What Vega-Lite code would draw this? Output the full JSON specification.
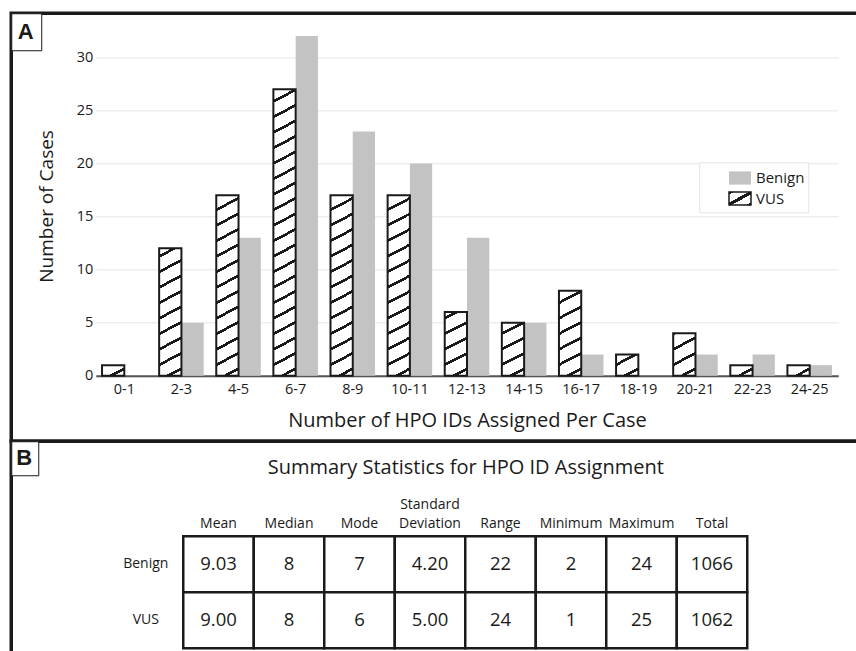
{
  "$schema": "https://vega.github.io/schema/vega-lite/v6.json",
  "background": "white",
  "padding": {"left": 8.25, "top": 10.25, "right": 0, "bottom": 0},
  "bounds": "flush",
  "spacing": 0,
  "config": {
    "font": "Open Sans",
    "axis": {"labelColor": "#1a1a1a", "titleColor": "#1a1a1a", "titleFontWeight": "normal"},
    "legend": {"labelColor": "#1a1a1a"}
  },
  "resolve": {"scale": {"shape": "independent", "fill": "independent"}, "legend": {"shape": "independent", "fill": "independent"}},
  "vconcat": [
    {
      "width": 850,
      "height": 428,
      "view": {"stroke": "#1a1a1a", "strokeWidth": 3.5},
      "layer": [
        {
          "data": {"values": [
            {"bin": "0-1", "type": "Benign", "n": 0}, {"bin": "0-1", "type": "VUS", "n": 1},
            {"bin": "2-3", "type": "Benign", "n": 5}, {"bin": "2-3", "type": "VUS", "n": 12},
            {"bin": "4-5", "type": "Benign", "n": 13}, {"bin": "4-5", "type": "VUS", "n": 17},
            {"bin": "6-7", "type": "Benign", "n": 32}, {"bin": "6-7", "type": "VUS", "n": 27},
            {"bin": "8-9", "type": "Benign", "n": 23}, {"bin": "8-9", "type": "VUS", "n": 17},
            {"bin": "10-11", "type": "Benign", "n": 20}, {"bin": "10-11", "type": "VUS", "n": 17},
            {"bin": "12-13", "type": "Benign", "n": 13}, {"bin": "12-13", "type": "VUS", "n": 6},
            {"bin": "14-15", "type": "Benign", "n": 5}, {"bin": "14-15", "type": "VUS", "n": 5},
            {"bin": "16-17", "type": "Benign", "n": 2}, {"bin": "16-17", "type": "VUS", "n": 8},
            {"bin": "18-19", "type": "Benign", "n": 0}, {"bin": "18-19", "type": "VUS", "n": 2},
            {"bin": "20-21", "type": "Benign", "n": 2}, {"bin": "20-21", "type": "VUS", "n": 4},
            {"bin": "22-23", "type": "Benign", "n": 2}, {"bin": "22-23", "type": "VUS", "n": 1},
            {"bin": "24-25", "type": "Benign", "n": 1}, {"bin": "24-25", "type": "VUS", "n": 1}
          ]},
          "mark": {"type": "bar", "strokeWidth": 2},
          "encoding": {
            "x": {
              "field": "bin", "type": "nominal", "sort": null,
              "scale": {"range": [84.5, 827], "paddingInner": 0.22, "paddingOuter": 0.11},
              "axis": {"title": "Number of HPO IDs Assigned Per Case", "orient": "bottom", "offset": -65.5, "labelAngle": 0, "ticks": false, "grid": false, "domainColor": "#555555", "domainWidth": 2, "labelFontSize": 14.5, "labelPadding": 7, "titleFontSize": 20, "titlePadding": 14}
            },
            "xOffset": {"field": "type", "type": "nominal", "scale": {"domain": ["VUS", "Benign"]}},
            "y": {
              "field": "n", "type": "quantitative",
              "scale": {"domain": [0, 32], "range": [362.5, 22.8], "nice": false},
              "axis": {"title": "Number of Cases", "orient": "left", "offset": -84.5, "values": [0, 5, 10, 15, 20, 25, 30], "ticks": false, "domain": false, "grid": true, "gridColor": "#eeeeee", "gridWidth": 1.5, "labelFontSize": 14.5, "labelPadding": 3, "titleFontSize": 19, "titlePadding": 19.5}
            },
            "fill": {
              "field": "type", "type": "nominal",
              "scale": {"domain": ["Benign", "VUS"], "range": ["#c3c3c3", {"expr": "{gradient: 'linear', x1: 1, y1: 1, x2: 0.0762, y2: -0.0659, stops: [{offset: 0, color: '#1a1a1a'}, {offset: 0.11, color: '#1a1a1a'}, {offset: 0.11, color: '#fff'}, {offset: 0.427, color: '#fff'}, {offset: 0.427, color: '#1a1a1a'}, {offset: 0.573, color: '#1a1a1a'}, {offset: 0.573, color: '#fff'}, {offset: 0.89, color: '#fff'}, {offset: 0.89, color: '#1a1a1a'}, {offset: 1, color: '#1a1a1a'}]}"}]},
              "legend": {
                "orient": "none", "legendX": 688, "legendY": 149, "title": null,
                "padding": 3.75, "rowPadding": 0.5, "symbolOffset": 25,
                "symbolType": "M-1,-0.6H1V0.6H-1Z", "symbolSize": 484,
                "labelFontSize": 15, "labelOffset": 4,
                "fillColor": "white", "strokeColor": "#e3e3e3",
                "encode": {"legend": {"strokeWidth": {"value": 1.5}}}
              },
              "condition": [
                {"test": "datum.type === 'VUS' && datum.n === 1", "value": {"gradient": "linear", "x1": 1, "y1": 1, "x2": -0.0407, "y2": 0.0447, "stops": [
                  {"offset": 0, "color": "#fff"}, {"offset": 0.248, "color": "#fff"}, {"offset": 0.248, "color": "#1a1a1a"}, {"offset": 0.383, "color": "#1a1a1a"}, {"offset": 0.383, "color": "#fff"}, {"offset": 1, "color": "#fff"}]}},
                {"test": "datum.type === 'VUS' && datum.n === 2", "value": {"gradient": "linear", "x1": 1, "y1": 1, "x2": 0.3509, "y2": -0.1912, "stops": [
                  {"offset": 0, "color": "#fff"}, {"offset": 0.1677, "color": "#fff"}, {"offset": 0.1677, "color": "#1a1a1a"}, {"offset": 0.2591, "color": "#1a1a1a"}, {"offset": 0.2591, "color": "#fff"},
                  {"offset": 0.6403, "color": "#fff"}, {"offset": 0.6403, "color": "#1a1a1a"}, {"offset": 0.7317, "color": "#1a1a1a"}, {"offset": 0.7317, "color": "#fff"}, {"offset": 1, "color": "#fff"}]}},
                {"test": "datum.type === 'VUS' && datum.n === 4", "value": {"gradient": "linear", "x1": 1, "y1": 1, "x2": 0.6773, "y2": -0.1845, "stops": [
                  {"offset": 0, "color": "#fff"}, {"offset": 0.1018, "color": "#fff"}, {"offset": 0.1018, "color": "#1a1a1a"}, {"offset": 0.1573, "color": "#1a1a1a"}, {"offset": 0.1573, "color": "#fff"},
                  {"offset": 0.3886, "color": "#fff"}, {"offset": 0.3886, "color": "#1a1a1a"}, {"offset": 0.4441, "color": "#1a1a1a"}, {"offset": 0.4441, "color": "#fff"},
                  {"offset": 0.6754, "color": "#fff"}, {"offset": 0.6754, "color": "#1a1a1a"}, {"offset": 0.7309, "color": "#1a1a1a"}, {"offset": 0.7309, "color": "#fff"},
                  {"offset": 0.9622, "color": "#fff"}, {"offset": 0.9622, "color": "#1a1a1a"}, {"offset": 1, "color": "#1a1a1a"}]}},
                {"test": "datum.type === 'VUS' && datum.n === 5", "value": {"gradient": "linear", "x1": 1, "y1": 1, "x2": 0.7467, "y2": -0.1627, "stops": [
                  {"offset": 0, "color": "#fff"}, {"offset": 0.0851, "color": "#fff"}, {"offset": 0.0851, "color": "#1a1a1a"}, {"offset": 0.1315, "color": "#1a1a1a"}, {"offset": 0.1315, "color": "#fff"},
                  {"offset": 0.3248, "color": "#fff"}, {"offset": 0.3248, "color": "#1a1a1a"}, {"offset": 0.3712, "color": "#1a1a1a"}, {"offset": 0.3712, "color": "#fff"},
                  {"offset": 0.5645, "color": "#fff"}, {"offset": 0.5645, "color": "#1a1a1a"}, {"offset": 0.6109, "color": "#1a1a1a"}, {"offset": 0.6109, "color": "#fff"},
                  {"offset": 0.8042, "color": "#fff"}, {"offset": 0.8042, "color": "#1a1a1a"}, {"offset": 0.8506, "color": "#1a1a1a"}, {"offset": 0.8506, "color": "#fff"}, {"offset": 1, "color": "#fff"}]}},
                {"test": "datum.type === 'VUS' && datum.n === 6", "value": {"gradient": "linear", "x1": 1, "y1": 1, "x2": 0.7922, "y2": -0.144, "stops": [
                  {"offset": 0, "color": "#fff"}, {"offset": 0.0731, "color": "#fff"}, {"offset": 0.0731, "color": "#1a1a1a"}, {"offset": 0.1129, "color": "#1a1a1a"}, {"offset": 0.1129, "color": "#fff"},
                  {"offset": 0.279, "color": "#fff"}, {"offset": 0.279, "color": "#1a1a1a"}, {"offset": 0.3188, "color": "#1a1a1a"}, {"offset": 0.3188, "color": "#fff"},
                  {"offset": 0.4849, "color": "#fff"}, {"offset": 0.4849, "color": "#1a1a1a"}, {"offset": 0.5247, "color": "#1a1a1a"}, {"offset": 0.5247, "color": "#fff"},
                  {"offset": 0.6909, "color": "#fff"}, {"offset": 0.6909, "color": "#1a1a1a"}, {"offset": 0.7307, "color": "#1a1a1a"}, {"offset": 0.7307, "color": "#fff"},
                  {"offset": 0.8968, "color": "#fff"}, {"offset": 0.8968, "color": "#1a1a1a"}, {"offset": 0.9366, "color": "#1a1a1a"}, {"offset": 0.9366, "color": "#fff"}, {"offset": 1, "color": "#fff"}]}},
                {"test": "datum.type === 'VUS' && datum.n === 8", "value": {"gradient": "linear", "x1": 1, "y1": 1, "x2": 0.848, "y2": -0.1155, "stops": [
                  {"offset": 0, "color": "#fff"}, {"offset": 0.057, "color": "#fff"}, {"offset": 0.057, "color": "#1a1a1a"}, {"offset": 0.0881, "color": "#1a1a1a"}, {"offset": 0.0881, "color": "#fff"},
                  {"offset": 0.2176, "color": "#fff"}, {"offset": 0.2176, "color": "#1a1a1a"}, {"offset": 0.2487, "color": "#1a1a1a"}, {"offset": 0.2487, "color": "#fff"},
                  {"offset": 0.3782, "color": "#fff"}, {"offset": 0.3782, "color": "#1a1a1a"}, {"offset": 0.4093, "color": "#1a1a1a"}, {"offset": 0.4093, "color": "#fff"},
                  {"offset": 0.5388, "color": "#fff"}, {"offset": 0.5388, "color": "#1a1a1a"}, {"offset": 0.5699, "color": "#1a1a1a"}, {"offset": 0.5699, "color": "#fff"},
                  {"offset": 0.6994, "color": "#fff"}, {"offset": 0.6994, "color": "#1a1a1a"}, {"offset": 0.7305, "color": "#1a1a1a"}, {"offset": 0.7305, "color": "#fff"},
                  {"offset": 0.86, "color": "#fff"}, {"offset": 0.86, "color": "#1a1a1a"}, {"offset": 0.8911, "color": "#1a1a1a"}, {"offset": 0.8911, "color": "#fff"}, {"offset": 1, "color": "#fff"}]}},
                {"test": "datum.type === 'VUS' && datum.n === 12", "value": {"gradient": "linear", "x1": 1, "y1": 1, "x2": 0.9017, "y2": -0.0819, "stops": [
                  {"offset": 0, "color": "#fff"}, {"offset": 0.0396, "color": "#fff"}, {"offset": 0.0396, "color": "#1a1a1a"}, {"offset": 0.0612, "color": "#1a1a1a"}, {"offset": 0.0612, "color": "#fff"},
                  {"offset": 0.1511, "color": "#fff"}, {"offset": 0.1511, "color": "#1a1a1a"}, {"offset": 0.1727, "color": "#1a1a1a"}, {"offset": 0.1727, "color": "#fff"},
                  {"offset": 0.2626, "color": "#fff"}, {"offset": 0.2626, "color": "#1a1a1a"}, {"offset": 0.2842, "color": "#1a1a1a"}, {"offset": 0.2842, "color": "#fff"},
                  {"offset": 0.3742, "color": "#fff"}, {"offset": 0.3742, "color": "#1a1a1a"}, {"offset": 0.3958, "color": "#1a1a1a"}, {"offset": 0.3958, "color": "#fff"},
                  {"offset": 0.4857, "color": "#fff"}, {"offset": 0.4857, "color": "#1a1a1a"}, {"offset": 0.5073, "color": "#1a1a1a"}, {"offset": 0.5073, "color": "#fff"},
                  {"offset": 0.5972, "color": "#fff"}, {"offset": 0.5972, "color": "#1a1a1a"}, {"offset": 0.6188, "color": "#1a1a1a"}, {"offset": 0.6188, "color": "#fff"},
                  {"offset": 0.7088, "color": "#fff"}, {"offset": 0.7088, "color": "#1a1a1a"}, {"offset": 0.7304, "color": "#1a1a1a"}, {"offset": 0.7304, "color": "#fff"},
                  {"offset": 0.8203, "color": "#fff"}, {"offset": 0.8203, "color": "#1a1a1a"}, {"offset": 0.8419, "color": "#1a1a1a"}, {"offset": 0.8419, "color": "#fff"},
                  {"offset": 0.9318, "color": "#fff"}, {"offset": 0.9318, "color": "#1a1a1a"}, {"offset": 0.9534, "color": "#1a1a1a"}, {"offset": 0.9534, "color": "#fff"}, {"offset": 1, "color": "#fff"}]}},
                {"test": "datum.type === 'VUS' && datum.n === 17", "value": {"gradient": "linear", "x1": 1, "y1": 1, "x2": 0.9321, "y2": -0.0598, "stops": [
                  {"offset": 0, "color": "#fff"}, {"offset": 0.0286, "color": "#fff"}, {"offset": 0.0286, "color": "#1a1a1a"}, {"offset": 0.0443, "color": "#1a1a1a"}, {"offset": 0.0443, "color": "#fff"},
                  {"offset": 0.1093, "color": "#fff"}, {"offset": 0.1093, "color": "#1a1a1a"}, {"offset": 0.125, "color": "#1a1a1a"}, {"offset": 0.125, "color": "#fff"},
                  {"offset": 0.19, "color": "#fff"}, {"offset": 0.19, "color": "#1a1a1a"}, {"offset": 0.2057, "color": "#1a1a1a"}, {"offset": 0.2057, "color": "#fff"},
                  {"offset": 0.2707, "color": "#fff"}, {"offset": 0.2707, "color": "#1a1a1a"}, {"offset": 0.2864, "color": "#1a1a1a"}, {"offset": 0.2864, "color": "#fff"},
                  {"offset": 0.3515, "color": "#fff"}, {"offset": 0.3515, "color": "#1a1a1a"}, {"offset": 0.3671, "color": "#1a1a1a"}, {"offset": 0.3671, "color": "#fff"},
                  {"offset": 0.4322, "color": "#fff"}, {"offset": 0.4322, "color": "#1a1a1a"}, {"offset": 0.4478, "color": "#1a1a1a"}, {"offset": 0.4478, "color": "#fff"},
                  {"offset": 0.5129, "color": "#fff"}, {"offset": 0.5129, "color": "#1a1a1a"}, {"offset": 0.5285, "color": "#1a1a1a"}, {"offset": 0.5285, "color": "#fff"},
                  {"offset": 0.5936, "color": "#fff"}, {"offset": 0.5936, "color": "#1a1a1a"}, {"offset": 0.6092, "color": "#1a1a1a"}, {"offset": 0.6092, "color": "#fff"},
                  {"offset": 0.6743, "color": "#fff"}, {"offset": 0.6743, "color": "#1a1a1a"}, {"offset": 0.6899, "color": "#1a1a1a"}, {"offset": 0.6899, "color": "#fff"},
                  {"offset": 0.755, "color": "#fff"}, {"offset": 0.755, "color": "#1a1a1a"}, {"offset": 0.7706, "color": "#1a1a1a"}, {"offset": 0.7706, "color": "#fff"},
                  {"offset": 0.8357, "color": "#fff"}, {"offset": 0.8357, "color": "#1a1a1a"}, {"offset": 0.8513, "color": "#1a1a1a"}, {"offset": 0.8513, "color": "#fff"},
                  {"offset": 0.9164, "color": "#fff"}, {"offset": 0.9164, "color": "#1a1a1a"}, {"offset": 0.932, "color": "#1a1a1a"}, {"offset": 0.932, "color": "#fff"}, {"offset": 1, "color": "#fff"}]}},
                {"test": "datum.type === 'VUS' && datum.n === 27", "value": {"gradient": "linear", "x1": 1, "y1": 1, "x2": 0.9581, "y2": -0.0387, "stops": [
                  {"offset": 0, "color": "#fff"}, {"offset": 0.0184, "color": "#fff"}, {"offset": 0.0184, "color": "#1a1a1a"}, {"offset": 0.0285, "color": "#1a1a1a"}, {"offset": 0.0285, "color": "#fff"},
                  {"offset": 0.0704, "color": "#fff"}, {"offset": 0.0704, "color": "#1a1a1a"}, {"offset": 0.0805, "color": "#1a1a1a"}, {"offset": 0.0805, "color": "#fff"},
                  {"offset": 0.1224, "color": "#fff"}, {"offset": 0.1224, "color": "#1a1a1a"}, {"offset": 0.1325, "color": "#1a1a1a"}, {"offset": 0.1325, "color": "#fff"},
                  {"offset": 0.1744, "color": "#fff"}, {"offset": 0.1744, "color": "#1a1a1a"}, {"offset": 0.1844, "color": "#1a1a1a"}, {"offset": 0.1844, "color": "#fff"},
                  {"offset": 0.2263, "color": "#fff"}, {"offset": 0.2263, "color": "#1a1a1a"}, {"offset": 0.2364, "color": "#1a1a1a"}, {"offset": 0.2364, "color": "#fff"},
                  {"offset": 0.2783, "color": "#fff"}, {"offset": 0.2783, "color": "#1a1a1a"}, {"offset": 0.2884, "color": "#1a1a1a"}, {"offset": 0.2884, "color": "#fff"},
                  {"offset": 0.3303, "color": "#fff"}, {"offset": 0.3303, "color": "#1a1a1a"}, {"offset": 0.3403, "color": "#1a1a1a"}, {"offset": 0.3403, "color": "#fff"},
                  {"offset": 0.3822, "color": "#fff"}, {"offset": 0.3822, "color": "#1a1a1a"}, {"offset": 0.3923, "color": "#1a1a1a"}, {"offset": 0.3923, "color": "#fff"},
                  {"offset": 0.4342, "color": "#fff"}, {"offset": 0.4342, "color": "#1a1a1a"}, {"offset": 0.4443, "color": "#1a1a1a"}, {"offset": 0.4443, "color": "#fff"},
                  {"offset": 0.4862, "color": "#fff"}, {"offset": 0.4862, "color": "#1a1a1a"}, {"offset": 0.4963, "color": "#1a1a1a"}, {"offset": 0.4963, "color": "#fff"},
                  {"offset": 0.5382, "color": "#fff"}, {"offset": 0.5382, "color": "#1a1a1a"}, {"offset": 0.5482, "color": "#1a1a1a"}, {"offset": 0.5482, "color": "#fff"},
                  {"offset": 0.5901, "color": "#fff"}, {"offset": 0.5901, "color": "#1a1a1a"}, {"offset": 0.6002, "color": "#1a1a1a"}, {"offset": 0.6002, "color": "#fff"},
                  {"offset": 0.6421, "color": "#fff"}, {"offset": 0.6421, "color": "#1a1a1a"}, {"offset": 0.6522, "color": "#1a1a1a"}, {"offset": 0.6522, "color": "#fff"},
                  {"offset": 0.6941, "color": "#fff"}, {"offset": 0.6941, "color": "#1a1a1a"}, {"offset": 0.7042, "color": "#1a1a1a"}, {"offset": 0.7042, "color": "#fff"},
                  {"offset": 0.7461, "color": "#fff"}, {"offset": 0.7461, "color": "#1a1a1a"}, {"offset": 0.7561, "color": "#1a1a1a"}, {"offset": 0.7561, "color": "#fff"},
                  {"offset": 0.798, "color": "#fff"}, {"offset": 0.798, "color": "#1a1a1a"}, {"offset": 0.8081, "color": "#1a1a1a"}, {"offset": 0.8081, "color": "#fff"},
                  {"offset": 0.85, "color": "#fff"}, {"offset": 0.85, "color": "#1a1a1a"}, {"offset": 0.8601, "color": "#1a1a1a"}, {"offset": 0.8601, "color": "#fff"},
                  {"offset": 0.902, "color": "#fff"}, {"offset": 0.902, "color": "#1a1a1a"}, {"offset": 0.9121, "color": "#1a1a1a"}, {"offset": 0.9121, "color": "#fff"},
                  {"offset": 0.954, "color": "#fff"}, {"offset": 0.954, "color": "#1a1a1a"}, {"offset": 0.964, "color": "#1a1a1a"}, {"offset": 0.964, "color": "#fff"}, {"offset": 1, "color": "#fff"}]}}
              ]
            },
            "stroke": {"condition": {"test": "datum.type === 'VUS' || datum.value === 'VUS'", "value": "#1a1a1a"}, "value": null}
          }
        },
        {
          "data": {"values": [{"panel": "A"}]},
          "mark": {"type": "point", "opacity": 0},
          "encoding": {
            "shape": {
              "field": "panel", "type": "nominal",
              "legend": {
                "orient": "none", "legendX": 0, "legendY": 0, "title": null,
                "padding": 7.5, "symbolSize": 16, "symbolOpacity": 0, "symbolStrokeWidth": 0, "labelOffset": -23,
                "labelExpr": "datum.label + '\u00a0'",
                "labelFont": "Liberation Sans", "labelFontWeight": "bold", "labelFontSize": 22,
                "fillColor": "white", "strokeColor": "#1a1a1a",
                "encode": {"legend": {"strokeWidth": {"value": 2.5}}}
              }
            }
          }
        }
      ]
    },
    {
      "width": 850,
      "height": 222,
      "view": {"stroke": "#1a1a1a", "strokeWidth": 3.5},
      "title": {"text": "Summary Statistics for HPO ID Assignment", "frame": "group", "anchor": "middle", "fontSize": 20, "fontWeight": "normal", "color": "#1a1a1a", "baseline": "alphabetic", "offset": -53.5, "dx": 29.5},
      "data": {"values": [
        {"stat": "Mean", "group": "Benign", "value": "9.03"}, {"stat": "Mean", "group": "VUS", "value": "9.00"},
        {"stat": "Median", "group": "Benign", "value": "8"}, {"stat": "Median", "group": "VUS", "value": "8"},
        {"stat": "Mode", "group": "Benign", "value": "7"}, {"stat": "Mode", "group": "VUS", "value": "6"},
        {"stat": "Standard Deviation", "group": "Benign", "value": "4.20"}, {"stat": "Standard Deviation", "group": "VUS", "value": "5.00"},
        {"stat": "Range", "group": "Benign", "value": "22"}, {"stat": "Range", "group": "VUS", "value": "24"},
        {"stat": "Minimum", "group": "Benign", "value": "2"}, {"stat": "Minimum", "group": "VUS", "value": "1"},
        {"stat": "Maximum", "group": "Benign", "value": "24"}, {"stat": "Maximum", "group": "VUS", "value": "25"},
        {"stat": "Total", "group": "Benign", "value": "1066"}, {"stat": "Total", "group": "VUS", "value": "1062"}
      ]},
      "layer": [
        {
          "mark": {"type": "rect", "fill": "white", "stroke": "#1a1a1a", "strokeWidth": 2.5},
          "encoding": {
            "x": {"field": "stat", "type": "nominal", "sort": null,
              "scale": {"range": [172, 736], "paddingInner": 0, "paddingOuter": 0},
              "axis": {"orient": "top", "offset": -95, "title": null, "domain": false, "ticks": false, "grid": false, "labelAngle": 0, "labelFontSize": 14, "labelPadding": 25, "labelBaseline": "bottom", "labelLineHeight": 19, "labelExpr": "datum.value === 'Standard Deviation' ? ['Standard', 'Deviation'] : ['', datum.value]"}},
            "y": {"field": "group", "type": "nominal", "sort": null,
              "scale": {"range": [95, 207], "paddingInner": 0, "paddingOuter": 0},
              "axis": {"orient": "left", "offset": -172, "title": null, "domain": false, "ticks": false, "grid": false, "labelAlign": "center", "labelPadding": 38, "labelFontSize": 14}}
          }
        },
        {
          "mark": {"type": "text", "fontSize": 18.5, "color": "#1a1a1a"},
          "encoding": {
            "x": {"field": "stat", "type": "nominal", "sort": null},
            "y": {"field": "group", "type": "nominal", "sort": null},
            "text": {"field": "value", "type": "nominal"}
          }
        },
        {
          "data": {"values": [{"panel": "B"}]},
          "mark": {"type": "point", "opacity": 0},
          "encoding": {
            "shape": {
              "field": "panel", "type": "nominal",
              "legend": {
                "orient": "none", "legendX": 0, "legendY": 0, "title": null,
                "padding": 6, "symbolSize": 25, "symbolOpacity": 0, "symbolStrokeWidth": 0, "labelOffset": -23,
                "labelExpr": "datum.label + '\u00a0'",
                "labelFont": "Liberation Sans", "labelFontWeight": "bold", "labelFontSize": 22,
                "fillColor": "white", "strokeColor": "#1a1a1a",
                "encode": {"legend": {"strokeWidth": {"value": 2.5}}}
              }
            }
          }
        }
      ]
    }
  ]
}
